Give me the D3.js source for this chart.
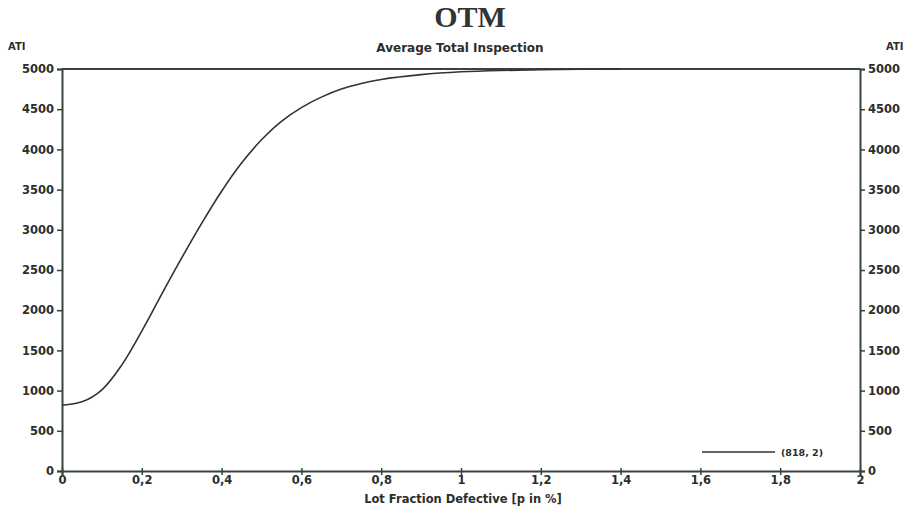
<!DOCTYPE html>
<html>
<head>
<meta charset="utf-8">
<script src="https://cdn.jsdelivr.net/npm/d3@7"></script>
<style>
  body { margin: 0; background: #fff; }
  svg { display: block; }
  text { font-family: "DejaVu Sans", Verdana, sans-serif; font-weight: bold; fill: #2a2f2c; }
</style>
</head>
<body>
<svg id="chart"></svg>
<script>
// lot fraction defective p (%) and average total inspection
const pValues = [0, 0.05, 0.1, 0.15, 0.2, 0.25, 0.3, 0.35, 0.4, 0.45, 0.5, 0.55, 0.6, 0.65, 0.7, 0.75, 0.8, 0.9, 1.0, 1.1, 1.2, 1.3, 1.4];
const atiValues = [818, 860, 1010, 1320, 1740, 2200, 2650, 3080, 3480, 3830, 4120, 4350, 4520, 4650, 4750, 4820, 4870, 4930, 4965, 4982, 4990, 4996, 5000];
const xTicks = [0, 0.2, 0.4, 0.6, 0.8, 1, 1.2, 1.4, 1.6, 1.8, 2];
const yTicks = [0, 500, 1000, 1500, 2000, 2500, 3000, 3500, 4000, 4500, 5000];
const seriesLabel = "(818, 2)";

const width = 914, height = 512;
const margin = { top: 69, right: 54, bottom: 41, left: 62 };
const axisColor = '#36443e';

const svg = d3.select('#chart').attr('width', width).attr('height', height);

const x = d3.scaleLinear().domain([0, 2]).range([margin.left, width - margin.right]);
const y = d3.scaleLinear().domain([0, 5000]).range([height - margin.bottom, margin.top]);

const fmt = d => String(d).replace('.', ',');

// titulos
svg.append('text')
  .attr('x', 470).attr('y', 27)
  .attr('text-anchor', 'middle')
  .style('font-family', '"Liberation Serif", "Times New Roman", serif')
  .style('font-size', '30px')
  .style('fill', '#333')
  .text('OTM');

svg.append('text')
  .attr('x', 460).attr('y', 52)
  .attr('text-anchor', 'middle')
  .style('font-size', '12px')
  .text('Average Total Inspection');

svg.append('text').attr('x', 8).attr('y', 50)
  .style('font-size', '10px').text('ATI');
svg.append('text').attr('x', 886).attr('y', 50)
  .style('font-size', '10px').text('ATI');

// eixos
const axisL = svg.append('g')
  .attr('transform', `translate(${margin.left},0)`)
  .call(d3.axisLeft(y).tickValues(yTicks).tickSize(5).tickPadding(3).tickFormat(d => d));
const axisR = svg.append('g')
  .attr('transform', `translate(${width - margin.right},0)`)
  .call(d3.axisRight(y).tickValues(yTicks).tickSize(5).tickPadding(3).tickFormat(d => d));
const axisB = svg.append('g')
  .attr('transform', `translate(0,${height - margin.bottom})`)
  .call(d3.axisBottom(x).tickValues(xTicks).tickSize(4).tickPadding(1).tickFormat(fmt));

[axisL, axisR, axisB].forEach(g => {
  g.select('.domain').attr('stroke', axisColor).attr('stroke-width', 2);
  g.selectAll('.tick line').attr('stroke', axisColor).attr('stroke-width', 1.5);
  g.selectAll('.tick text')
    .style('font-family', '"DejaVu Sans", Verdana, sans-serif')
    .style('font-weight', 'bold').style('font-size', '11.5px').attr('fill', '#2a2f2c');
});
axisB.selectAll('.tick line').attr('y1', -3);

// linha superior do quadro
svg.append('line')
  .attr('x1', x(0)).attr('x2', x(2))
  .attr('y1', y(5000)).attr('y2', y(5000))
  .attr('stroke', axisColor).attr('stroke-width', 2);

// curva ATI
const line = d3.line()
  .x((d, i) => x(pValues[i]))
  .y(d => y(d))
  .curve(d3.curveCatmullRom.alpha(0.5));

svg.append('path')
  .datum(atiValues)
  .attr('fill', 'none')
  .attr('stroke', '#333')
  .attr('stroke-width', 1.6)
  .attr('d', line);

// legenda
svg.append('line')
  .attr('x1', 702).attr('x2', 775)
  .attr('y1', 452).attr('y2', 452)
  .attr('stroke', '#333').attr('stroke-width', 1.6);
svg.append('text')
  .attr('x', 781).attr('y', 456)
  .style('font-size', '9.5px')
  .text(seriesLabel);

// rotulo eixo x
svg.append('text')
  .attr('x', 463).attr('y', 503)
  .attr('text-anchor', 'middle')
  .style('font-size', '11.5px')
  .text('Lot Fraction Defective [p in %]');
</script>
</body>
</html>
